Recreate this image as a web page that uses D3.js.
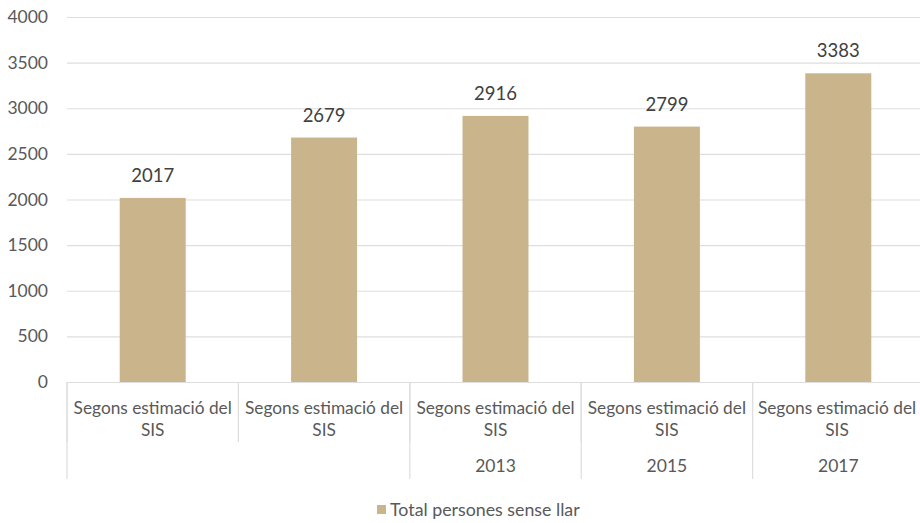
<!DOCTYPE html>
<html><head><meta charset="utf-8">
<script src="https://cdn.jsdelivr.net/npm/d3@7"></script>
<style>
html,body{margin:0;padding:0;background:#fff;}
svg{display:block;font-family:Lato,"Open Sans",sans-serif;}
</style></head>
<body><svg id="c" width="920" height="523"></svg>
<script>
const categories = ["Segons estimació del SIS","Segons estimació del SIS","Segons estimació del SIS","Segons estimació del SIS","Segons estimació del SIS"];
const years = ["", "", "2013", "2015", "2017"];
const values = [2017, 2679, 2916, 2799, 3383];
const yTicks = [0, 500, 1000, 1500, 2000, 2500, 3000, 3500, 4000];
const seriesName = "Total persones sense llar";

(function(){
const W = 920, H = 523;
const mLeft = 67, mRight = 924, mTop = 17, base = 382;
const barColor = "#c9b48c", gridColor = "#dedede", textColor = "#595959";

const svg = d3.select("#c");
const ids = categories.map((d, i) => i);
const x = d3.scaleBand().domain(ids).range([mLeft, mRight]).padding(0);
const y = d3.scaleLinear().domain([0, 4000]).range([base, mTop]);
const barW = x.bandwidth() * 0.385;

// gridlines + y labels
const yAxis = d3.axisLeft(y).tickValues(yTicks).tickSize(-(W - mLeft)).tickPadding(19).tickFormat(d3.format("d"));
const gy = svg.append("g").attr("transform", `translate(${mLeft},0)`).call(yAxis);
gy.select(".domain").remove();
gy.selectAll(".tick line").attr("stroke", gridColor).attr("stroke-width", 1.2);
gy.selectAll(".tick text").attr("fill", textColor).attr("font-size", 17.5).attr("font-family", "Lato");

// bars
svg.append("g").selectAll("rect").data(values).join("rect")
  .attr("x", (d, i) => x(i) + x.bandwidth() / 2 - barW / 2)
  .attr("width", barW)
  .attr("y", d => y(d))
  .attr("height", d => y(0) - y(d))
  .attr("fill", barColor);

// value labels
svg.append("g").selectAll("text").data(values).join("text")
  .attr("x", (d, i) => x(i) + x.bandwidth() / 2)
  .attr("y", d => y(d) - 16)
  .attr("text-anchor", "middle")
  .attr("fill", "#404040")
  .attr("font-size", 18.5)
  .text(d => d);

// category axis (multi-level)
const ax = svg.append("g");
ids.forEach(i => {
  ax.append("line").attr("x1", x(i)).attr("x2", x(i)).attr("y1", base).attr("y2", 442)
    .attr("stroke", gridColor).attr("stroke-width", 1.2);
});
ids.forEach(i => {
  const words = categories[i].split(" ");
  const l1 = words.slice(0, 3).join(" "), l2 = words.slice(3).join(" ");
  const cx = Math.min(x(i) + x.bandwidth() / 2, 837);
  const t = ax.append("text").attr("text-anchor", "middle").attr("fill", textColor).attr("font-size", 17.3);
  t.append("tspan").attr("x", cx).attr("y", 414).text(l1);
  t.append("tspan").attr("x", cx).attr("y", 436).text(l2);
});
const groups = [];
years.forEach((yv, i) => {
  if (i === 0 || yv !== "") groups.push({label: yv, start: i, end: i});
  else groups[groups.length - 1].end = i;
});
groups.forEach(g => {
  const x0 = x(g.start), x1 = x(g.end) + x.bandwidth();
  ax.append("line").attr("x1", x0).attr("x2", x0).attr("y1", base).attr("y2", 479)
    .attr("stroke", gridColor).attr("stroke-width", 1.2);
  ax.append("text").attr("x", (x0 + x1) / 2).attr("y", 472).attr("text-anchor", "middle")
    .attr("fill", textColor).attr("font-size", 17.5).text(g.label);
});

// legend
const lg = svg.append("g").attr("transform", "translate(377,505)");
lg.append("rect").attr("width", 9).attr("height", 9).attr("fill", barColor);
lg.append("text").attr("x", 13).attr("y", 11).attr("fill", textColor).attr("font-size", 17.8).text(seriesName);
})();
</script></body></html>
